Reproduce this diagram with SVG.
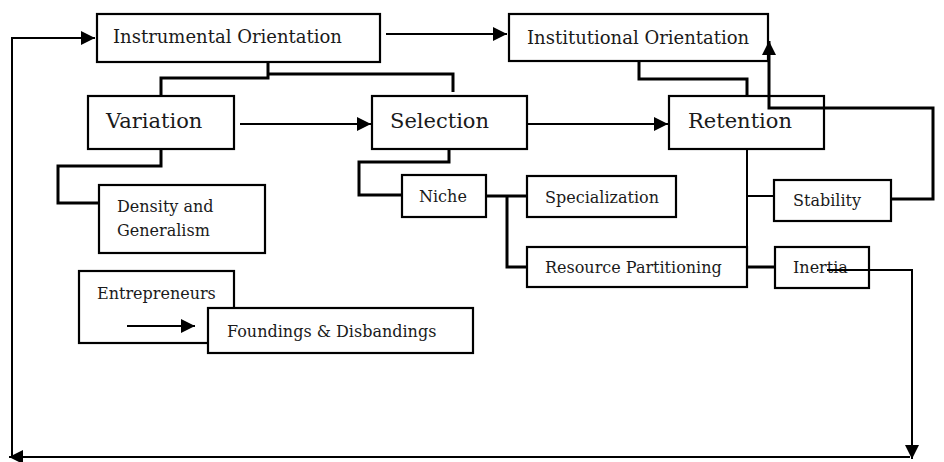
<svg xmlns="http://www.w3.org/2000/svg" width="944" height="462" viewBox="0 0 944 462">
<defs>
<style>
.box{fill:#fff;stroke:#000;stroke-width:2.2}
.t{font-family:"DejaVu Serif","Liberation Serif",serif;fill:#1a1a1a}
.big{font-size:21px}
.mid{font-size:18px}
.sm{font-size:16px}
.c{fill:none;stroke:#000;stroke-width:2}
.k{fill:none;stroke:#000;stroke-width:3}
</style>
<marker id="ahb" viewBox="0 0 10 10" refX="10" refY="5" markerWidth="15" markerHeight="14" orient="auto" markerUnits="userSpaceOnUse">
<path d="M0,0 L10,5 L0,10 z" fill="#000"/>
</marker>
</defs>
<g id="instrumental"><rect class="box" x="97" y="14" width="283" height="48"/><text class="t mid" x="113" y="43">Instrumental Orientation</text></g>
<g id="institutional"><rect class="box" x="509" y="14" width="259" height="47"/><text class="t mid" x="527" y="44">Institutional Orientation</text></g>
<g id="variation"><rect class="box" x="88" y="96" width="146" height="53"/><text class="t big" x="106" y="128">Variation</text></g>
<g id="selection"><rect class="box" x="372" y="96" width="155" height="53"/><text class="t big" x="390" y="128">Selection</text></g>
<g id="retention"><rect class="box" x="669" y="96" width="155" height="53"/><text class="t big" x="688" y="128">Retention</text></g>
<g id="density"><rect class="box" x="99" y="185" width="166" height="68"/><text class="t sm" x="117" y="212">Density and</text><text class="t sm" x="117" y="236">Generalism</text></g>
<g id="niche"><rect class="box" x="402" y="175" width="84" height="42"/><text class="t sm" x="419" y="202">Niche</text></g>
<g id="specialization"><rect class="box" x="527" y="176" width="149" height="41"/><text class="t sm" x="545" y="203">Specialization</text></g>
<g id="resource"><rect class="box" x="527" y="247" width="220" height="40"/><text class="t sm" x="545" y="273">Resource Partitioning</text></g>
<g id="stability"><rect class="box" x="774" y="180" width="117" height="41"/><text class="t sm" x="793" y="206">Stability</text></g>
<g id="inertia"><rect class="box" x="775" y="247" width="94" height="41"/><text class="t sm" x="793" y="273">Inertia</text></g>
<g id="entrepreneurs"><rect class="box" x="79" y="271" width="155" height="72"/><text class="t sm" x="97" y="299">Entrepreneurs</text></g>
<g id="foundings"><rect class="box" x="208" y="308" width="265" height="45"/><text class="t sm" x="227" y="337">Foundings &amp; Disbandings</text></g>
<g id="connectors">
<path class="c" d="M386,34 H507" marker-end="url(#ahb)"/>
<path class="c" d="M240,124 H371" marker-end="url(#ahb)"/>
<path class="c" d="M528,124 H668" marker-end="url(#ahb)"/>
<path class="c" d="M827,270 H912 V459" marker-end="url(#ahb)"/>
<path class="c" d="M910,457 H9" marker-end="url(#ahb)"/>
<path class="c" d="M12,457 V38 H95" marker-end="url(#ahb)"/>
<path class="k" d="M268,62 V78 H161 V96"/>
<path class="k" d="M268,74 H453 V92"/>
<path class="k" d="M639,61 V79 H747 V96"/>
<path class="k" d="M161,149 V166 H58 V203 H99"/>
<path class="k" d="M449,149 V162 H359 V195 H402"/>
<path class="k" d="M486,196 H527"/>
<path class="k" d="M507,196 V267 H527"/>
<path class="c" d="M747,149 V247"/>
<path class="c" d="M747,196 H774"/>
<path class="k" d="M747,267 H775"/>
<path class="k" d="M891,199 H933 V108 H769 V41" marker-end="url(#ahb)"/>
<path class="c" d="M127,326 H195" marker-end="url(#ahb)"/>
</g>
</svg>
